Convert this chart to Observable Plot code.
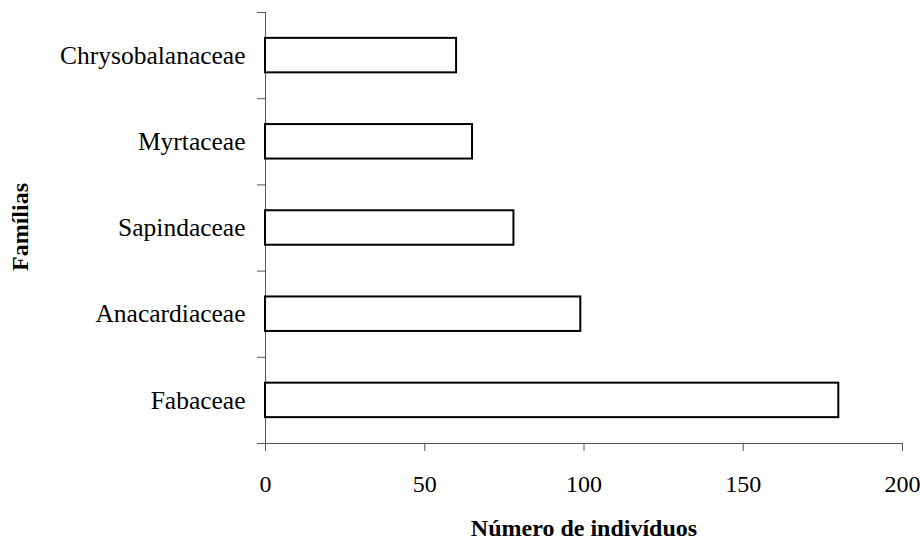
<!DOCTYPE html>
<html>
<head>
<meta charset="utf-8">
<script src="https://cdn.jsdelivr.net/npm/d3@7"></script>
<script src="https://cdn.jsdelivr.net/npm/@observablehq/plot@0.6"></script>
<style>
  html, body { margin: 0; padding: 0; background: #fff; }
  #chart { position: relative; width: 920px; height: 542px; }
  #chart svg { display: block; }
</style>
</head>
<body>
<div id="chart"></div>
<script>
// Categories listed bottom to top
const categories = ["Fabaceae", "Anacardiaceae", "Sapindaceae", "Myrtaceae", "Chrysobalanaceae"];
const values = [180, 99, 78, 65, 60];
const xTicks = [0, 50, 100, 150, 200];
const xLabel = "Número de indivíduos";
const yLabel = "Famílias";

const data = categories.map((c, i) => ({category: c, value: values[i], idx: i}));
const bounds = d3.range(categories.length + 1);
const centers = categories.map((c, i) => i + 0.5);

const font = "'Liberation Serif', 'Times New Roman', serif";

const plot = Plot.plot({
  width: 920,
  height: 542,
  marginLeft: 265,
  marginRight: 18,
  marginTop: 12,
  marginBottom: 99,
  style: {fontFamily: font, fontSize: "24px", color: "#000", background: "#fff"},
  x: {domain: [0, 200], label: null},
  y: {domain: [0, categories.length], label: null},
  marks: [
    Plot.axisY(bounds, {tickSize: 8, tickFormat: () => "", stroke: "#555", strokeWidth: 1}),
    Plot.axisY(centers, {tickSize: 0, tickPadding: 20, tickFormat: (d) => categories[Math.floor(d)], fontSize: 25.5}),
    Plot.axisX(xTicks, {tickSize: 8, tickPadding: 23, stroke: "#555", fontSize: 24}),
    Plot.ruleX([0], {y1: 0, y2: categories.length, stroke: "#555"}),
    Plot.ruleY([0], {x1: -2.5, x2: 200, stroke: "#555"}),
    Plot.rectX(data, {x1: 0, x2: "value", y1: (d) => d.idx + 0.3, y2: (d) => d.idx + 0.7, fill: "#fff", stroke: "#000", strokeWidth: 2})
  ]
});

document.getElementById("chart").appendChild(plot);
const svg = d3.select(plot);
svg.append("text")
  .attr("x", 584)
  .attr("y", 536)
  .attr("text-anchor", "middle")
  .attr("font-family", font)
  .attr("font-weight", "bold")
  .attr("font-size", 24)
  .text(xLabel);
svg.append("text")
  .attr("transform", "translate(28,227) rotate(-90)")
  .attr("text-anchor", "middle")
  .attr("font-family", font)
  .attr("font-weight", "bold")
  .attr("font-size", 24)
  .text(yLabel);
</script>
</body>
</html>
